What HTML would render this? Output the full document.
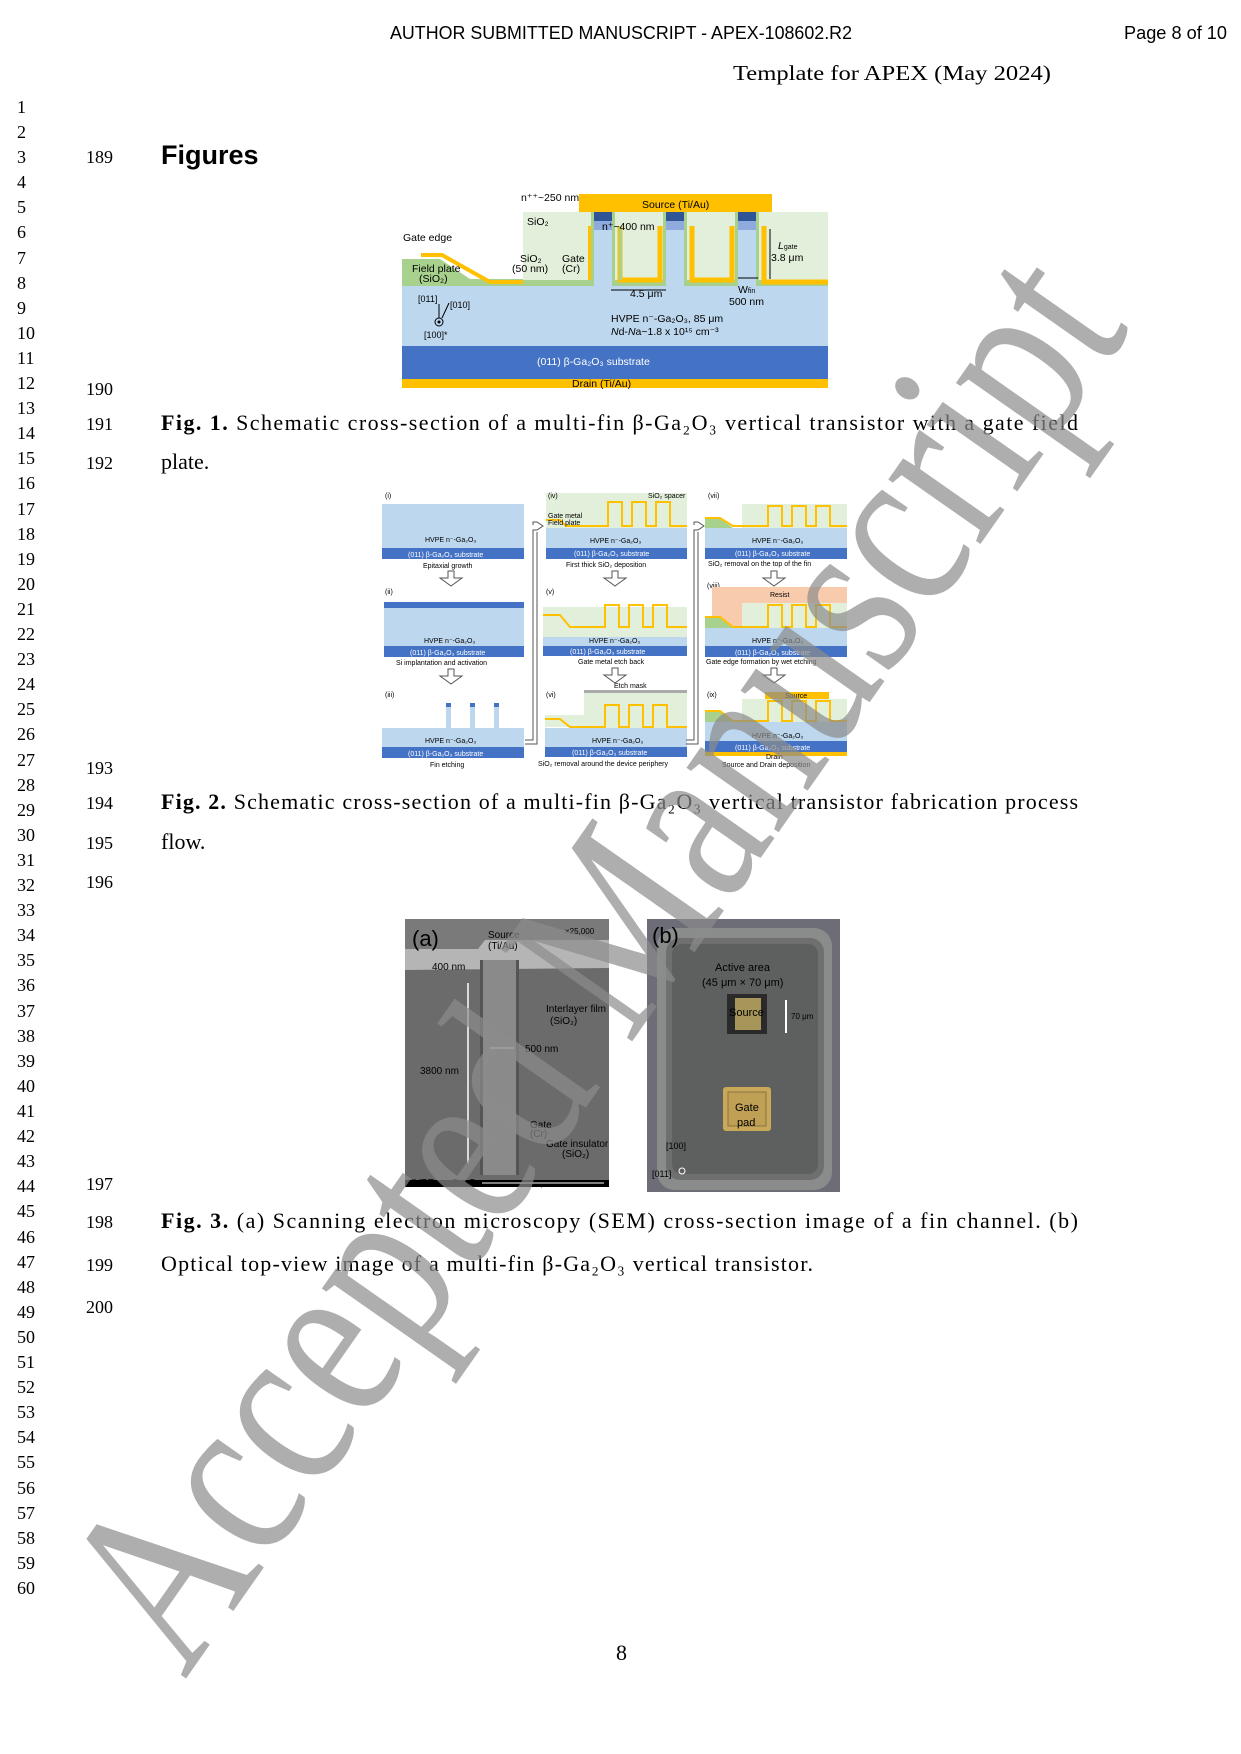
<!DOCTYPE html>
<html><head><meta charset="utf-8"><style>
html,body{margin:0;padding:0;background:#fff;}
svg{display:block;}
.ln{font-family:"Liberation Serif",serif;font-size:18px;fill:#000;}
.cap{font-family:"Liberation Serif",serif;font-size:22px;fill:#000;}
.s{font-family:"Liberation Sans",sans-serif;fill:#000;}
</style></head><body>
<svg width="1241" height="1754" viewBox="0 0 1241 1754" xmlns="http://www.w3.org/2000/svg">
<rect width="1241" height="1754" fill="#fff"/>
<!-- header -->
<text class="s" x="390" y="39" font-size="18" textLength="462" lengthAdjust="spacingAndGlyphs">AUTHOR SUBMITTED MANUSCRIPT - APEX-108602.R2</text>
<text class="s" x="1124" y="39" font-size="18" textLength="103" lengthAdjust="spacingAndGlyphs">Page 8 of 10</text>
<text x="733" y="80" font-family="Liberation Serif,serif" font-size="21" textLength="318" lengthAdjust="spacingAndGlyphs">Template for APEX (May 2024)</text>

<!-- left line numbers -->
<g class="ln">
<text x="17" y="113">1</text><text x="17" y="138">2</text><text x="17" y="163">3</text><text x="17" y="188">4</text><text x="17" y="213">5</text><text x="17" y="238">6</text><text x="17" y="264">7</text><text x="17" y="289">8</text><text x="17" y="314">9</text><text x="17" y="339">10</text><text x="17" y="364">11</text><text x="17" y="389">12</text><text x="17" y="414">13</text><text x="17" y="439">14</text><text x="17" y="464">15</text><text x="17" y="489">16</text><text x="17" y="515">17</text><text x="17" y="540">18</text><text x="17" y="565">19</text><text x="17" y="590">20</text><text x="17" y="615">21</text><text x="17" y="640">22</text><text x="17" y="665">23</text><text x="17" y="690">24</text><text x="17" y="715">25</text><text x="17" y="740">26</text><text x="17" y="766">27</text><text x="17" y="791">28</text><text x="17" y="816">29</text><text x="17" y="841">30</text><text x="17" y="866">31</text><text x="17" y="891">32</text><text x="17" y="916">33</text><text x="17" y="941">34</text><text x="17" y="966">35</text><text x="17" y="991">36</text><text x="17" y="1017">37</text><text x="17" y="1042">38</text><text x="17" y="1067">39</text><text x="17" y="1092">40</text><text x="17" y="1117">41</text><text x="17" y="1142">42</text><text x="17" y="1167">43</text><text x="17" y="1192">44</text><text x="17" y="1217">45</text><text x="17" y="1243">46</text><text x="17" y="1268">47</text><text x="17" y="1293">48</text><text x="17" y="1318">49</text><text x="17" y="1343">50</text><text x="17" y="1368">51</text><text x="17" y="1393">52</text><text x="17" y="1418">53</text><text x="17" y="1443">54</text><text x="17" y="1468">55</text><text x="17" y="1494">56</text><text x="17" y="1519">57</text><text x="17" y="1544">58</text><text x="17" y="1569">59</text><text x="17" y="1594">60</text>
</g>
<g class="ln" font-size="20">
<text x="86" y="163">189</text><text x="86" y="395">190</text><text x="86" y="430">191</text><text x="86" y="469">192</text>
<text x="86" y="774">193</text><text x="86" y="809">194</text><text x="86" y="849">195</text><text x="86" y="888">196</text>
<text x="86" y="1190">197</text><text x="86" y="1228">198</text><text x="86" y="1271">199</text><text x="86" y="1313">200</text>
</g>
<text class="s" x="161" y="164" font-size="27" font-weight="bold">Figures</text>

<!-- captions -->
<text class="cap" x="161" y="430" textLength="917" lengthAdjust="spacing"><tspan font-weight="bold">Fig. 1.</tspan> Schematic cross-section of a multi-fin β-Ga₂O₃ vertical transistor with a gate field</text>
<text class="cap" x="161" y="469">plate.</text>
<text class="cap" x="161" y="809" textLength="917" lengthAdjust="spacing"><tspan font-weight="bold">Fig. 2.</tspan> Schematic cross-section of a multi-fin β-Ga₂O₃ vertical transistor fabrication process</text>
<text class="cap" x="161" y="849">flow.</text>
<text class="cap" x="161" y="1228" textLength="917" lengthAdjust="spacing"><tspan font-weight="bold">Fig. 3.</tspan> (a) Scanning electron microscopy (SEM) cross-section image of a fin channel. (b)</text>
<text class="cap" x="161" y="1271" textLength="652" lengthAdjust="spacing">Optical top-view image of a multi-fin β-Ga₂O₃ vertical transistor.</text>
<text class="cap" x="616" y="1660">8</text>

<!-- FIGURE 1 -->
<g>
<rect x="523" y="212" width="305" height="68" fill="#E2EFDA"/>
<rect x="402" y="282" width="426" height="64" fill="#BDD7EE"/>
<rect x="402" y="346" width="426" height="33" fill="#4472C4"/>
<rect x="402" y="379" width="426" height="9" fill="#FFC000"/>
<rect x="579" y="194" width="193" height="18" fill="#FFC000"/>
<polygon points="402,259 440,259 470,279 523,279 523,286 402,286" fill="#A9D18E"/>
<polyline points="421,255 442,255 490,282 590,282 590,226" fill="none" stroke="#FFC000" stroke-width="4"/>
<rect x="523" y="280" width="305" height="6" fill="#A9D18E"/>
<g>
<rect x="591" y="212" width="24" height="74" fill="#A9D18E"/>
<rect x="594" y="212" width="18" height="74" fill="#BDD7EE"/>
<rect x="594" y="212" width="18" height="9" fill="#2F5597"/><rect x="594" y="221" width="18" height="9" fill="#8FAADC"/>
<rect x="663" y="212" width="24" height="74" fill="#A9D18E"/>
<rect x="666" y="212" width="18" height="74" fill="#BDD7EE"/>
<rect x="666" y="212" width="18" height="9" fill="#2F5597"/><rect x="666" y="221" width="18" height="9" fill="#8FAADC"/>
<rect x="735" y="212" width="24" height="74" fill="#A9D18E"/>
<rect x="738" y="212" width="18" height="74" fill="#BDD7EE"/>
<rect x="738" y="212" width="18" height="9" fill="#2F5597"/><rect x="738" y="221" width="18" height="9" fill="#8FAADC"/>
</g>
<g fill="none" stroke="#FFC000" stroke-width="5">
<polyline points="620,226 620,280 660,280 660,226"/>
<polyline points="692,226 692,280 732,280 732,226"/>
<polyline points="764,226 764,282 828,282"/>
</g>
<rect x="619" y="226" width="3" height="54" fill="#A9D18E"/>
<g class="s" font-size="10.5">
<text x="521" y="201">n⁺⁺~250 nm</text>
<text x="642" y="208">Source (Ti/Au)</text>
<text x="527" y="225">SiO₂</text>
<text x="602" y="230">n⁺~400 nm</text>
<text x="403" y="241">Gate edge</text>
<text x="412" y="272">Field plate</text>
<text x="419" y="282">(SiO₂)</text>
<text x="520" y="262">SiO₂</text>
<text x="512" y="272">(50 nm)</text>
<text x="562" y="262">Gate</text>
<text x="562" y="272">(Cr)</text>
<text x="630" y="297">4.5 μm</text>
<text x="738" y="293">W<tspan font-size="7">fin</tspan></text>
<text x="729" y="305">500 nm</text>
<text x="778" y="249" font-style="italic">L<tspan font-size="7" font-style="normal">gate</tspan></text>
<text x="771" y="261">3.8 μm</text>
<text x="611" y="322">HVPE n⁻-Ga₂O₃, 85 μm</text>
<text x="611" y="335"><tspan font-style="italic">N</tspan>d-<tspan font-style="italic">N</tspan>a~1.8 x 10¹⁵ cm⁻³</text>
<text x="418" y="302" font-size="9">[011]</text>
<text x="450" y="308" font-size="9">[010]</text>
<text x="424" y="338" font-size="9">[100]*</text>
<text x="537" y="365" fill="#fff">(011) β-Ga₂O₃ substrate</text>
<text x="572" y="387">Drain (Ti/Au)</text>
</g>
<circle cx="439" cy="322" r="4" fill="none" stroke="#000"/><circle cx="439" cy="322" r="1.5"/>
<line x1="439" y1="318" x2="439" y2="304" stroke="#000"/>
<line x1="442" y1="318" x2="449" y2="303" stroke="#000"/>
<line x1="611" y1="290" x2="666" y2="290" stroke="#000"/>
<line x1="770" y1="229" x2="770" y2="279" stroke="#000"/>
<line x1="738" y1="278" x2="758" y2="278" stroke="#000"/>
</g>

<!-- FIGURE 2 -->
<g class="s" font-size="7">
<rect x="382" y="504" width="142" height="44" fill="#BDD7EE"/><rect x="382" y="548" width="142" height="11" fill="#4472C4"/>
<text x="425" y="542">HVPE n⁻-Ga₂O₃</text><text x="408" y="557" fill="#fff">(011) β-Ga₂O₃ substrate</text><text x="423" y="568">Epitaxial growth</text>
<rect x="384" y="602" width="140" height="6" fill="#4472C4"/><rect x="384" y="608" width="140" height="38" fill="#BDD7EE"/><rect x="384" y="646" width="140" height="11" fill="#4472C4"/>
<text x="424" y="643">HVPE n⁻-Ga₂O₃</text><text x="410" y="655" fill="#fff">(011) β-Ga₂O₃ substrate</text><text x="396" y="665">Si implantation and activation</text>
<g fill="#BDD7EE"><rect x="446" y="703" width="5" height="25"/><rect x="470" y="703" width="5" height="25"/><rect x="494" y="703" width="5" height="25"/></g>
<g fill="#4472C4"><rect x="446" y="703" width="5" height="4"/><rect x="470" y="703" width="5" height="4"/><rect x="494" y="703" width="5" height="4"/></g>
<rect x="382" y="728" width="142" height="19" fill="#BDD7EE"/><rect x="382" y="747" width="142" height="11" fill="#4472C4"/>
<text x="425" y="743">HVPE n⁻-Ga₂O₃</text><text x="408" y="756" fill="#fff">(011) β-Ga₂O₃ substrate</text><text x="430" y="767">Fin etching</text>
<text x="385" y="498">(i)</text><text x="385" y="594">(ii)</text><text x="385" y="697">(iii)</text>
<rect x="546" y="493" width="141" height="35" fill="#E2EFDA"/><rect x="546" y="528" width="141" height="20" fill="#BDD7EE"/><rect x="546" y="548" width="141" height="11" fill="#4472C4"/>
<polyline points="546,520 560,520 566,526 608,526 608,502 622,502 622,526 632,526 632,502 646,502 646,526 656,526 656,502 670,502 670,526 687,526" fill="none" stroke="#FFC000" stroke-width="2"/>
<text x="590" y="543">HVPE n⁻-Ga₂O₃</text><text x="574" y="556" fill="#fff">(011) β-Ga₂O₃ substrate</text><text x="566" y="567">First thick SiO₂ deposition</text>
<text x="548" y="498">(iv)</text><text x="648" y="498">SiO₂ spacer</text><text x="548" y="518">Gate metal</text><text x="548" y="525">Field plate</text>
<rect x="543" y="607" width="144" height="30" fill="#E2EFDA"/><rect x="543" y="637" width="144" height="9" fill="#BDD7EE"/><rect x="543" y="646" width="144" height="10" fill="#4472C4"/>
<polyline points="543,615 560,615 570,627 605,627 605,605 619,605 619,627 629,627 629,605 643,605 643,627 653,627 653,605 667,605 667,627 687,627" fill="none" stroke="#FFC000" stroke-width="2"/>
<text x="589" y="643">HVPE n⁻-Ga₂O₃</text><text x="570" y="654" fill="#fff">(011) β-Ga₂O₃ substrate</text><text x="578" y="664">Gate metal etch back</text>
<text x="546" y="594">(v)</text>
<rect x="584" y="690" width="103" height="3" fill="#aaa"/><rect x="584" y="693" width="103" height="35" fill="#E2EFDA"/>
<rect x="545" y="715" width="142" height="12" fill="#E2EFDA"/><rect x="545" y="728" width="142" height="19" fill="#BDD7EE"/><rect x="545" y="747" width="142" height="10" fill="#4472C4"/>
<polyline points="545,719 560,719 570,727 605,727 605,705 619,705 619,727 629,727 629,705 643,705 643,727 653,727 653,705 667,705 667,727 687,727" fill="none" stroke="#FFC000" stroke-width="2"/>
<text x="592" y="743">HVPE n⁻-Ga₂O₃</text><text x="572" y="755" fill="#fff">(011) β-Ga₂O₃ substrate</text><text x="538" y="766">SiO₂ removal around the device periphery</text>
<text x="546" y="697">(vi)</text><text x="614" y="688">Etch mask</text>
<rect x="742" y="504" width="105" height="26" fill="#E2EFDA"/><rect x="705" y="528" width="142" height="20" fill="#BDD7EE"/><rect x="705" y="548" width="142" height="11" fill="#4472C4"/>
<polygon points="705,518 720,518 733,528 705,528" fill="#A9D18E"/>
<polyline points="705,518 720,518 733,526 768,526 768,506 782,506 782,526 792,526 792,506 806,506 806,526 816,526 816,506 830,506 830,526 847,526" fill="none" stroke="#FFC000" stroke-width="2"/>
<text x="752" y="543">HVPE n⁻-Ga₂O₃</text><text x="735" y="556" fill="#fff">(011) β-Ga₂O₃ substrate</text><text x="708" y="566">SiO₂ removal on the top of the fin</text>
<text x="708" y="498">(vii)</text><text x="707" y="588">(viii)</text>
<rect x="712" y="587" width="135" height="40" fill="#F8CBAD"/><rect x="742" y="603" width="105" height="25" fill="#E2EFDA"/>
<polygon points="705,618 720,618 733,628 705,628" fill="#A9D18E"/>
<rect x="705" y="628" width="142" height="18" fill="#BDD7EE"/><rect x="705" y="646" width="142" height="11" fill="#4472C4"/>
<polyline points="705,617 720,617 733,627 768,627 768,605 782,605 782,627 792,627 792,605 806,605 806,627 816,627 816,605 830,605 830,627 847,627" fill="none" stroke="#FFC000" stroke-width="2"/>
<text x="770" y="597">Resist</text><text x="752" y="643">HVPE n⁻-Ga₂O₃</text><text x="735" y="655" fill="#fff">(011) β-Ga₂O₃ substrate</text><text x="706" y="664">Gate edge formation by wet etching</text>
<text x="707" y="697">(ix)</text>
<rect x="765" y="692" width="64" height="7" fill="#FFC000"/><rect x="742" y="699" width="105" height="23" fill="#E2EFDA"/>
<polygon points="705,712 720,712 733,722 705,722" fill="#A9D18E"/>
<rect x="705" y="722" width="142" height="19" fill="#BDD7EE"/><rect x="705" y="741" width="142" height="11" fill="#4472C4"/><rect x="705" y="752" width="142" height="4" fill="#FFC000"/>
<polyline points="705,711 720,711 733,721 768,721 768,701 782,701 782,721 792,721 792,701 806,701 806,721 816,721 816,701 830,701 830,721 847,721" fill="none" stroke="#FFC000" stroke-width="2"/>
<text x="785" y="698">Source</text><text x="752" y="738">HVPE n⁻-Ga₂O₃</text><text x="735" y="750" fill="#fff">(011) β-Ga₂O₃ substrate</text><text x="766" y="759">Drain</text><text x="722" y="767">Source and Drain deposition</text>
<g fill="none" stroke="#555" stroke-width="1">
<path d="M440,578 h8 v-7 h6 v7 h8 l-11,8 z"/><path d="M440,676 h8 v-7 h6 v7 h8 l-11,8 z"/>
<path d="M604,578 h8 v-7 h6 v7 h8 l-11,8 z"/><path d="M604,675 h8 v-7 h6 v7 h8 l-11,8 z"/>
<path d="M763,578 h8 v-7 h6 v7 h8 l-11,8 z"/><path d="M763,675 h8 v-7 h6 v7 h8 l-11,8 z"/>
<path d="M525,740 h8 v-210 h4 l6,-4 l-6,-4 h-4 v3"/><path d="M537,532 v212 h-12"/>
<path d="M686,740 h8 v-210 h4 l6,-4 l-6,-4 h-4 v3"/><path d="M698,532 v212 h-12"/>
</g>
</g>

<!-- FIGURE 3a -->
<rect x="405" y="919" width="204" height="268" fill="#6b6b6b"/>
<rect x="405" y="919" width="204" height="30" fill="#7a7a7a"/>
<polygon points="405,949 478,949 485,940 609,940 609,968 405,970" fill="#b5b5b5"/>
<rect x="482" y="960" width="34" height="215" fill="#8a8a8a"/>
<rect x="480" y="960" width="3" height="215" fill="#555"/><rect x="516" y="960" width="3" height="215" fill="#555"/>
<rect x="405" y="1180" width="204" height="7" fill="#000"/>
<g class="s" fill="#fff" font-size="10">
<text x="412" y="946" font-size="22">(a)</text>
<text x="488" y="938">Source</text><text x="488" y="949">(Ti/Au)</text>
<text x="565" y="934" font-size="8">×25,000</text>
<text x="432" y="970">400 nm</text>
<text x="546" y="1012">Interlayer film</text><text x="550" y="1024">(SiO₂)</text>
<text x="525" y="1052">500 nm</text>
<text x="420" y="1074">3800 nm</text>
<text x="530" y="1128">Gate</text><text x="530" y="1137">(Cr)</text>
<text x="546" y="1147">Gate insulator</text><text x="562" y="1157">(SiO₂)</text>
<text x="407" y="1186">HVPE n⁻-Ga₂O₃</text><text x="534" y="1186" font-size="8">2 μm</text>
</g>
<line x1="468" y1="983" x2="468" y2="1163" stroke="#fff" stroke-width="1.5"/>
<line x1="490" y1="1048" x2="514" y2="1048" stroke="#fff"/>
<line x1="482" y1="1183" x2="604" y2="1183" stroke="#fff"/>

<!-- FIGURE 3b -->
<rect x="647" y="919" width="193" height="273" fill="#6d6d78"/>
<rect x="657" y="928" width="175" height="262" rx="18" fill="#8a8c8c"/>
<rect x="666" y="938" width="158" height="242" rx="14" fill="#6e6f6e"/>
<rect x="672" y="944" width="146" height="230" rx="10" fill="#5e5f5f"/>
<rect x="727" y="994" width="40" height="40" fill="#2a2a2a"/>
<rect x="735" y="998" width="26" height="32" fill="#a8955a"/>
<rect x="723" y="1087" width="48" height="44" rx="3" fill="#c9a85a"/>
<rect x="728" y="1092" width="38" height="34" fill="#bfa055" stroke="#8a7540"/>
<line x1="786" y1="1000" x2="786" y2="1033" stroke="#fff" stroke-width="2"/>
<g class="s" fill="#fff" font-size="11">
<text x="652" y="943" font-size="22">(b)</text>
<text x="715" y="971">Active area</text><text x="702" y="986">(45 μm × 70 μm)</text>
<text x="729" y="1016">Source</text><text x="791" y="1019" font-size="8">70 μm</text>
<text x="735" y="1111">Gate</text><text x="737" y="1126">pad</text>
<text x="666" y="1149" font-size="9">[100]</text><text x="652" y="1177" font-size="9">[011]</text>
</g>
<circle cx="682" cy="1171" r="3" fill="none" stroke="#fff"/>

<!-- watermark -->
<text x="0" y="0" font-family="Liberation Serif,serif" font-size="245" fill="#8c8c8c" fill-opacity="0.7" transform="translate(185,1680) rotate(-55)" textLength="1650" lengthAdjust="spacingAndGlyphs">Accepted Manuscript</text>
</svg>
</body></html>
